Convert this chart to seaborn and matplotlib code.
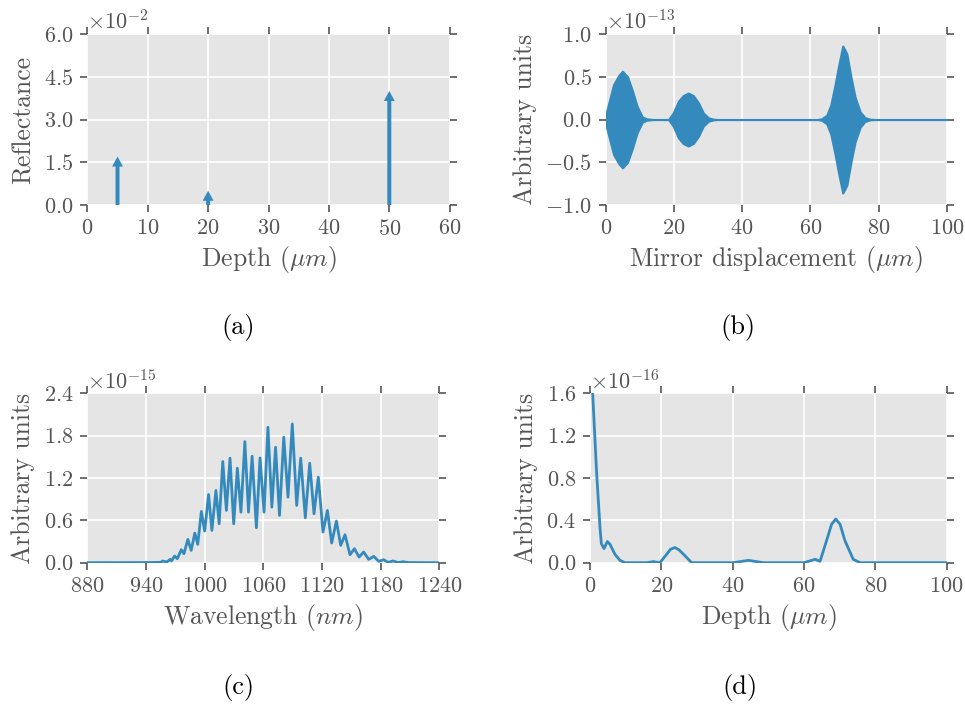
import matplotlib
matplotlib.use("Agg")
import matplotlib.pyplot as plt
import numpy as np
import seaborn as sns

BLUE = "#348ABD"
GREY = "#555555"

# (a) reflectance of the three interfaces
depths_um = [5, 20, 50]
reflectance = np.array([1.7, 0.5, 4.0]) * 1e-2

# (b) interferogram envelope
env_x = [0.0, 0.3, 1.0, 2.3, 3.9, 4.9, 6.4, 7.1, 7.8, 9.2, 10.7, 12.0, 14.0,
         18.4, 19.8, 21.3, 22.7, 24.2, 25.7, 27.2, 28.6, 30.1, 31.6, 33.0,
         62.0, 63.3, 64.8, 66.0, 67.2, 68.5, 69.5, 70.7, 71.9, 73.1, 74.6, 76.0, 77.5,
         79.0, 100.0]
env_amp = np.array([0.08, 0.10, 0.21, 0.41, 0.52, 0.565, 0.50, 0.42, 0.34, 0.155,
                    0.032, 0.008, 0.0, 0.0, 0.078, 0.214, 0.28, 0.31, 0.28, 0.195,
                    0.078, 0.02, 0.004, 0.0, 0.0, 0.008, 0.05, 0.17, 0.40, 0.67,
                    0.86, 0.77, 0.50, 0.265, 0.09, 0.023, 0.004, 0.0, 0.0]) * 1e-13

# (c) spectrum, peaks and troughs
wavelength_nm = [880, 940, 955.2, 956.9, 961.2, 964.6, 966.0, 969.3, 972.0, 976.1, 978.8,
                 982.8, 986.2, 989.9, 992.9, 996.6, 1000.0, 1004.0, 1007.4, 1011.5,
                 1014.8, 1018.5, 1022.2, 1025.9, 1029.7, 1033.4, 1037.1, 1041.1, 1044.8,
                 1048.5, 1052.9, 1056.6, 1060.7, 1064.7, 1068.7, 1072.5, 1076.5, 1080.9,
                 1085.2, 1089.6, 1094.1, 1098.2, 1102.9, 1107.4, 1111.8, 1116.2, 1121.0,
                 1125.5, 1129.9, 1134.7, 1139.1, 1143.5, 1148.6, 1153.1, 1157.9, 1162.6,
                 1167.7, 1172.9, 1178.0, 1183.1, 1187.5, 1192.6, 1197.7, 1202.9, 1208.0,
                 1240]
spectrum = np.array([0.0, 0.002, 0.005, 0.024, 0.009, 0.047, 0.024, 0.094, 0.057, 0.184,
                     0.127, 0.330, 0.174, 0.419, 0.259, 0.726, 0.448, 0.966, 0.457, 1.023,
                     0.551, 1.433, 0.740, 1.480, 0.551, 1.338, 0.716, 1.715, 0.716, 1.508,
                     0.495, 1.484, 0.716, 1.918, 0.787, 1.635, 0.669, 1.777, 0.928, 1.965,
                     0.811, 1.480, 0.636, 1.409, 0.693, 1.211, 0.434, 0.740, 0.278, 0.589,
                     0.245, 0.396, 0.113, 0.198, 0.080, 0.151, 0.047, 0.090, 0.019, 0.042,
                     0.005, 0.024, 0.002, 0.014, 0.002, 0.0]) * 1e-15

# (d) reconstructed depth profile
profile_x = [0.75, 1.87, 2.8, 3.18, 3.93, 4.86, 5.6, 7.0, 8.4, 9.8, 15.9, 17.8, 19.6,
             21.5, 22.6, 23.8, 25.0, 26.2, 28.5, 40.2, 44.4, 48.6, 60.0, 63.1, 64.5,
             66.3, 67.75, 68.9, 70.1, 71.5, 73.8, 75.7, 100.0]
profile = np.array([1.6, 0.84, 0.333, 0.18, 0.133, 0.20, 0.174, 0.079, 0.022, 0.0,
                    0.0, 0.01, 0.0, 0.08, 0.127, 0.143, 0.12, 0.08, 0.0, 0.0, 0.022,
                    0.0, 0.0, 0.032, 0.013, 0.206, 0.364, 0.412, 0.364, 0.206, 0.032,
                    0.0, 0.0]) * 1e-16

sns.set_style("darkgrid", {"axes.facecolor": "#E5E5E5", "grid.color": "white",
                           "axes.edgecolor": "#E5E5E5"})
plt.rcParams.update({
    "font.family": "serif",
    "font.serif": ["cmr10"],
    "mathtext.fontset": "cm",
    "axes.formatter.use_mathtext": True,
    "axes.unicode_minus": True,
    "grid.linewidth": 1.2,
})

TICK_SIZE = 16
LABEL_SIZE = 18.5

fig = plt.figure(figsize=(9.65, 7.06), dpi=100)
ax_a = fig.add_axes([0.0905, 0.7096, 0.3755, 0.2422])
ax_b = fig.add_axes([0.6277, 0.7096, 0.3534, 0.2422])
ax_c = fig.add_axes([0.0905, 0.2030, 0.3648, 0.2400])
ax_d = fig.add_axes([0.6114, 0.2030, 0.3696, 0.2400])

for x, h in zip(depths_um, reflectance):
    ax_a.arrow(x, 0, 0, h, width=0.66, head_width=1.8, head_length=0.0035,
               length_includes_head=True, color=BLUE, lw=0, zorder=3)
ax_a.set_xlim(0, 60)
ax_a.set_ylim(0, 0.06)
ax_a.set_xticks(range(0, 61, 10))
ax_a.set_yticks(np.linspace(0, 0.06, 5))
ax_a.set_xlabel(r"Depth ($\mu m$)")
ax_a.set_ylabel("Reflectance")

ax_b.fill_between(env_x, -env_amp, env_amp, color=BLUE, lw=1.5, zorder=3)
ax_b.set_xlim(0, 100)
ax_b.set_ylim(-1e-13, 1e-13)
ax_b.set_xticks(range(0, 101, 20))
ax_b.set_yticks(np.linspace(-1e-13, 1e-13, 5))
ax_b.set_xlabel(r"Mirror displacement ($\mu m$)")
ax_b.set_ylabel("Arbitrary units")

sns.lineplot(x=wavelength_nm, y=spectrum, ax=ax_c, color=BLUE, lw=2, estimator=None)
ax_c.set_xlim(880, 1240)
ax_c.set_ylim(0, 2.4e-15)
ax_c.set_xticks(range(880, 1241, 60))
ax_c.set_yticks(np.linspace(0, 2.4e-15, 5))
ax_c.set_xlabel(r"Wavelength ($nm$)")
ax_c.set_ylabel("Arbitrary units")

sns.lineplot(x=profile_x, y=profile, ax=ax_d, color=BLUE, lw=2, estimator=None)
ax_d.set_xlim(0, 100)
ax_d.set_ylim(0, 1.6e-16)
ax_d.set_xticks(range(0, 101, 20))
ax_d.set_yticks(np.linspace(0, 1.6e-16, 5))
ax_d.set_xlabel(r"Depth ($\mu m$)")
ax_d.set_ylabel("Arbitrary units")

for ax in (ax_a, ax_b, ax_c, ax_d):
    ax.ticklabel_format(axis="y", style="sci", scilimits=(0, 0), useMathText=True)
    ax.tick_params(which="major", direction="out", length=5, width=1.2, color=GREY,
                   labelcolor=GREY, labelsize=TICK_SIZE, pad=5,
                   top=True, right=True, bottom=True, left=True)
    ax.yaxis.get_offset_text().set_fontsize(TICK_SIZE)
    ax.yaxis.get_offset_text().set_color(GREY)
    ax.xaxis.label.set_color(GREY)
    ax.yaxis.label.set_color(GREY)
    ax.xaxis.label.set_fontsize(LABEL_SIZE)
    ax.yaxis.label.set_fontsize(LABEL_SIZE)
    ax.xaxis.labelpad = 4
    ax.yaxis.labelpad = 6
    for s in ax.spines.values():
        s.set_visible(False)
    ax.grid(True, color="white", lw=1.2)

for label, x, y in [("(a)", 0.2466, 0.5368), ("(b)", 0.7648, 0.5368),
                    ("(c)", 0.2466, 0.0255), ("(d)", 0.7668, 0.0255)]:
    fig.text(x, y, label, ha="center", va="center", fontsize=19, color="black")

fig.savefig("out.png", dpi=100)
